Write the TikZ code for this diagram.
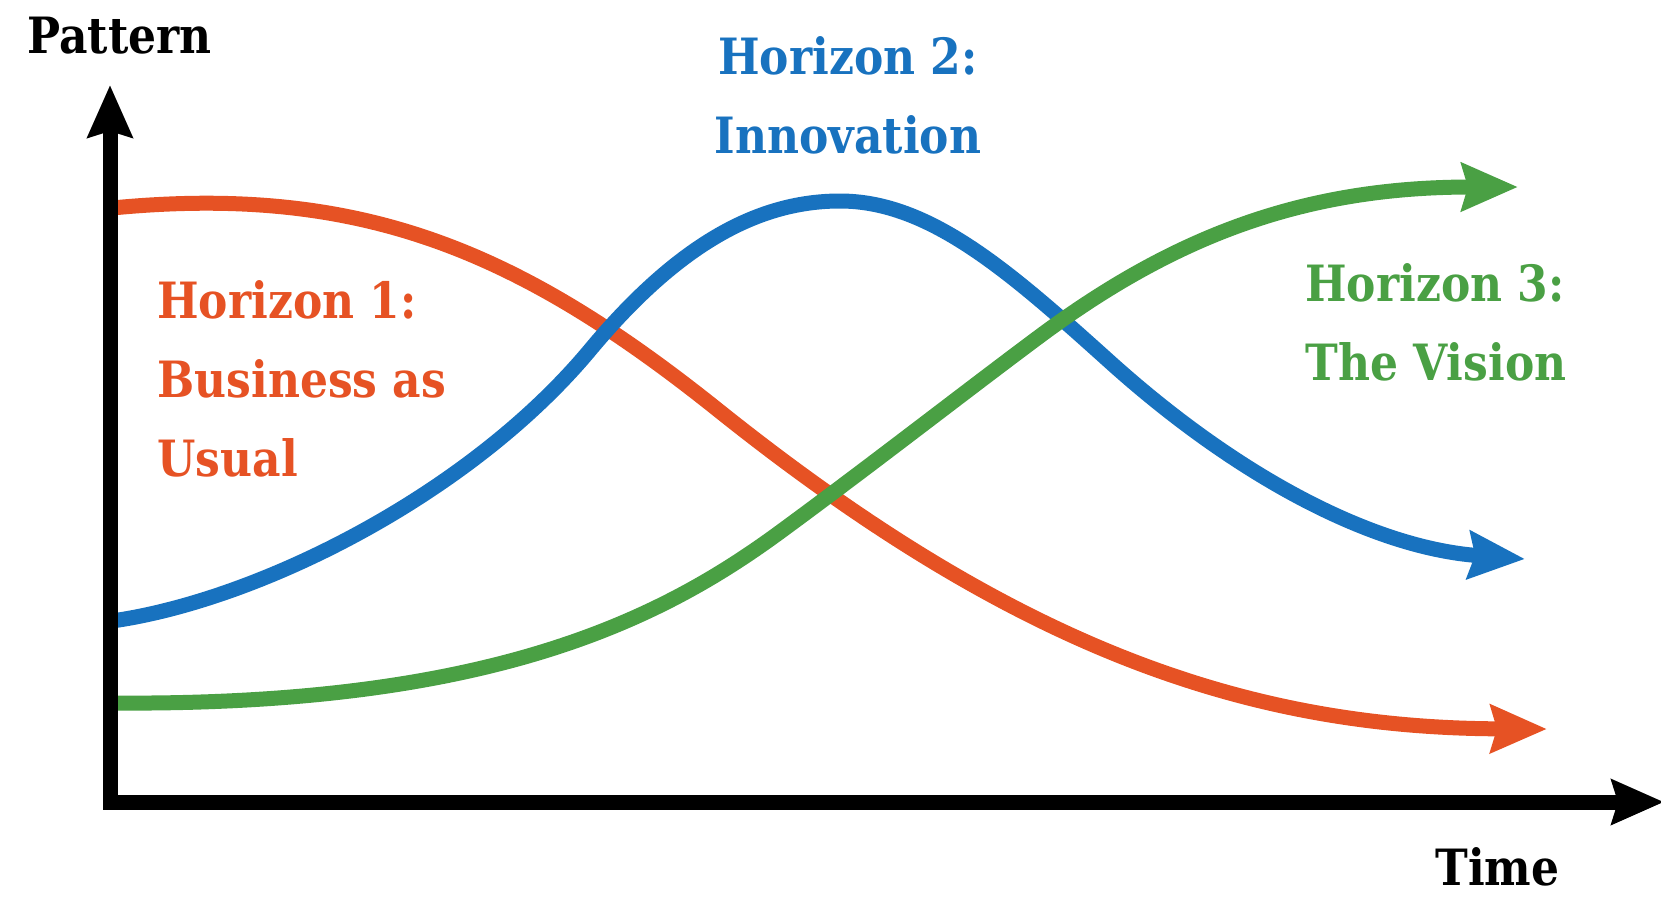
\documentclass[tikz,border=0pt]{standalone}
\usepackage{fontspec}
\setmainfont{DejaVu Serif}[FakeStretch=0.88]
\usetikzlibrary{arrows.meta}

\definecolor{hOne}{RGB}{230,82,36}
\definecolor{hTwo}{RGB}{24,114,191}
\definecolor{hThree}{RGB}{74,160,68}

\begin{document}
\begin{tikzpicture}[x=0.5pt, y=-0.5pt,
  curve/.style={line width=7.5pt, line join=round,
    -{Stealth[length=28pt, width=23.5pt, inset=3pt]}},
  axisline/.style={line width=7.5pt, line join=miter, black,
    {Stealth[length=26pt, width=22pt, inset=3pt]}-{Stealth[length=26pt, width=22pt, inset=3pt]}},
  lbl/.style={inner sep=0pt, align=left, font=\fontsize{25pt}{39.5pt}\selectfont\bfseries},
  axislbl/.style={inner sep=0pt, font=\fontsize{25pt}{30pt}\selectfont\bfseries}
]
\useasboundingbox (0,0) rectangle (1661,896);

% Horizon 1: falls from a high plateau to a low one
\draw[curve, hOne] (112,208)
  .. controls (360,184) and (518,250) .. (718,410)
  .. controls (1018,650) and (1250,728) .. (1547,729);

% Horizon 2: rises to a peak, then falls back
\draw[curve, hTwo] (112,621)
  .. controls (260,600) and (470,494) .. (590,350)
  .. controls (680,242) and (760,201) .. (840,201)
  .. controls (930,201) and (1010,272) .. (1110,362)
  .. controls (1240,479) and (1375,548) .. (1525,559);

% Horizon 3: climbs from a low plateau to a high one
\draw[curve, hThree] (112,703)
  .. controls (490,706) and (660,620) .. (780,532)
  .. controls (870,466) and (970,388) .. (1040,336)
  .. controls (1180,232) and (1310,187) .. (1518,187);

% axes
\coordinate (ytop) at (110,85);
\coordinate (origin) at (110,802);
\coordinate (xend) at (1664,802);
\draw[axisline] (ytop) -- (origin) -- (xend);

% axis labels
\node[axislbl, anchor=base west] (ylab) at (27,53) {Pattern};
\node[axislbl, anchor=base west] (xlab) at (1435,885) {Time};

% horizon labels
\node[lbl, hOne, anchor=north west] (h1) at (157,280) {Horizon 1:\\Business as\\Usual};
\node[lbl, hTwo, align=center, anchor=north] (h2) at (848,36) {Horizon 2:\\Innovation};
\node[lbl, hThree, anchor=north west] (h3) at (1305,263) {Horizon 3:\\The Vision};
\end{tikzpicture}
\end{document}
